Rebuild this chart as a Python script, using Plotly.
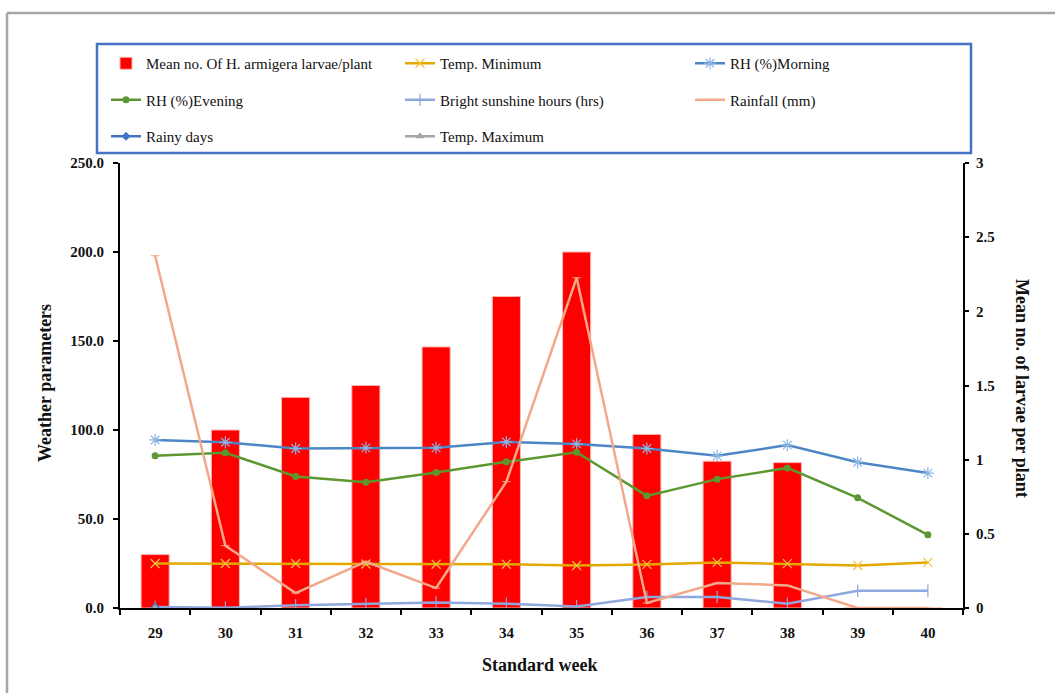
import plotly.graph_objects as go

# Standard weeks
weeks = ["29", "30", "31", "32", "33", "34", "35", "36", "37", "38", "39", "40"]

# Pest population (right axis)
larvae_per_plant = [0.36, 1.20, 1.42, 1.50, 1.76, 2.10, 2.40, 1.17, 0.99, 0.98, 0, 0]

# Weather parameters (left axis)
temp_min = [25.0, 25.0, 25.0, 24.7, 24.6, 24.6, 23.9, 24.5, 25.6, 24.9, 23.9, 25.6]
rh_morning = [94.4, 93.1, 89.6, 90.0, 90.0, 93.3, 92.2, 89.6, 85.5, 91.5, 81.9, 75.8]
rh_evening = [85.6, 87.2, 73.9, 70.7, 76.1, 82.1, 87.5, 63.0, 72.4, 78.7, 61.9, 41.1]
sunshine_hrs = [0.5, 0.2, 1.5, 2.2, 3.1, 2.4, 0.9, 6.2, 6.2, 2.4, 9.7, 9.7]
rainfall_mm = [197.9, 35.0, 8.4, 26.0, 11.2, 71.0, 185.5, 2.8, 14.0, 12.7, 0, 0]
rainy_days = [0.5, None, None, None, None, None, None, None, None, None, None, None]
temp_max = [0.0, None, None, None, None, None, None, None, None, None, None, None]

SERIF = "Liberation Serif, Times New Roman, serif"

fig = go.Figure()

# Bars on the primary axis so the weather lines render above them
fig.add_trace(go.Bar(
    x=weeks, y=larvae_per_plant, name="Mean no. Of H. armigera larvae/plant",
    marker=dict(color="#FF0000", line=dict(color="#F8B8B0", width=1)),
    width=0.4, yaxis="y", legend="legend", legendgroup="a",
))

lines = [
    ("Temp. Minimum", temp_min, "#E2A800", dict(symbol="x-thin-open", size=9,
        color="#F5C242", line=dict(color="#F5C242", width=1.2)), "legend2", "b"),
    ("RH (%)Morning", rh_morning, "#4C86C4", dict(symbol="asterisk-open", size=10,
        color="#8DB6E4", line=dict(color="#8DB6E4", width=1.2)), "legend3", "c"),
    ("RH (%)Evening", rh_evening, "#5D9732", dict(symbol="circle", size=7,
        color="#5D9732"), "legend", "d"),
    ("Bright sunshine hours (hrs)", sunshine_hrs, "#8FA8DC", dict(symbol="line-ns-open", size=9,
        color="#8FA8DC", line=dict(color="#8FA8DC", width=1.2)), "legend2", "e"),
    ("Rainfall (mm)", rainfall_mm, "#F2A88A", dict(symbol="line-ew-open", size=6,
        color="#F2A88A", line=dict(color="#F2A88A", width=1)), "legend3", "f"),
    ("Rainy days", rainy_days, "#4472C4", dict(symbol="diamond", size=7,
        color="#4472C4"), "legend", "g"),
    ("Temp. Maximum", temp_max, "#A5A5A5", dict(symbol="triangle-up", size=8,
        color="#A5A5A5"), "legend2", "h"),
]
for name, vals, col, mk, lg, grp in lines:
    fig.add_trace(go.Scatter(
        x=weeks, y=vals, name=name, mode="lines+markers",
        line=dict(color=col, width=2.5), marker=mk,
        yaxis="y2", legend=lg, legendgroup=grp,
    ))

# Plot area spans px 120..963 horizontally, 163..608 vertically
W, H = 1055, 693
L, R, T, B = 120, 963, 163, 608
def px(x):
    return (x - L) / (R - L)
def py(y):
    return (B - y) / (B - T)

legend_common = dict(
    orientation="v", yanchor="top", y=py(47), xanchor="left",
    font=dict(family=SERIF, size=15, color="#111111"),
    bgcolor="rgba(0,0,0,0)", tracegroupgap=14, itemwidth=30,
)

tick_font = dict(family=SERIF, size=15, color="#111111", weight="bold")

fig.update_layout(
    width=W, height=H,
    margin=dict(l=L, r=W - R, t=T, b=H - B),
    paper_bgcolor="white", plot_bgcolor="white",
    bargap=0.6,
    legend=dict(x=px(106), **legend_common),
    legend2=dict(x=px(400), **legend_common),
    legend3=dict(x=px(690), **legend_common),
    xaxis=dict(
        type="category", categoryorder="array", categoryarray=weeks,
        range=[-0.5, 11.5], showline=True, linecolor="black", linewidth=2,
        ticks="outside", ticklen=5, tickwidth=1.5, tickcolor="black",
        tickson="boundaries", showgrid=False, zeroline=False,
        ticklabelstandoff=10, tickfont=tick_font,
    ),
    yaxis=dict(
        side="right", range=[0, 3], dtick=0.5, showline=True, linecolor="black",
        linewidth=2, ticks="outside", ticklen=4, tickwidth=1.5, tickcolor="black",
        showgrid=False, zeroline=False, ticklabelstandoff=4, tickfont=tick_font,
    ),
    yaxis2=dict(
        side="left", overlaying="y", range=[0, 250], dtick=50, tickformat=".1f",
        showline=True, linecolor="black", linewidth=2, ticks="outside", ticklen=5,
        tickwidth=1.5, tickcolor="black", showgrid=False, zeroline=False,
        ticklabelstandoff=6, tickfont=tick_font,
    ),
    showlegend=True,
)

# Axis titles
title_font = dict(family=SERIF, size=18, color="#111111")
fig.add_annotation(text="<b>Weather parameters</b>", xref="paper", yref="paper",
                   x=px(45), y=py(383), xanchor="center", yanchor="middle",
                   textangle=-90, showarrow=False, font=title_font)
fig.add_annotation(text="<b>Mean no. of larvae per plant</b>", xref="paper", yref="paper",
                   x=px(1022), y=py(388), xanchor="center", yanchor="middle",
                   textangle=90, showarrow=False, font=title_font)
fig.add_annotation(text="<b>Standard week</b>", xref="paper", yref="paper",
                   x=px(540), y=py(665), xanchor="center", yanchor="middle",
                   showarrow=False, font=title_font)

# Legend frame
fig.add_shape(type="rect", xref="paper", yref="paper",
              x0=px(97), x1=px(971), y0=py(153), y1=py(44),
              line=dict(color="#4472C4", width=2.5), fillcolor="rgba(0,0,0,0)")

# Chart frame (top and left edges)
fig.add_shape(type="line", xref="paper", yref="paper",
              x0=px(7), x1=px(W + 5), y0=py(13), y1=py(13),
              line=dict(color="#A6A6A6", width=2.5))
fig.add_shape(type="line", xref="paper", yref="paper",
              x0=px(7), x1=px(7), y0=py(13), y1=py(H + 5),
              line=dict(color="#A6A6A6", width=2.5))

fig.write_html("out.html")
